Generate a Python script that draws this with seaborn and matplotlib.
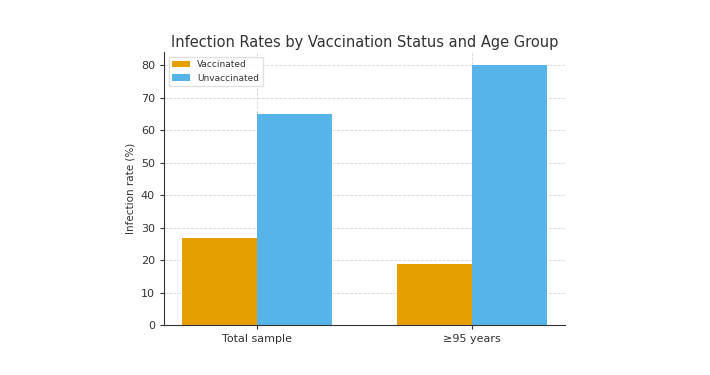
import seaborn as sns
import matplotlib.pyplot as plt
import pandas as pd

groups = ["Total sample", "≥95 years"]
vaccinated = [26.7, 18.9]
unvaccinated = [65.0, 80.0]
status = ["Vaccinated", "Unvaccinated"]
colors = ["#E69F00", "#56B4E9"]

df = pd.DataFrame({
    "group": groups * 2,
    "rate": vaccinated + unvaccinated,
    "status": [status[0]] * len(groups) + [status[1]] * len(groups),
})

sns.set_style("ticks")
plt.rcParams["font.family"] = ["DejaVu Sans"]
plt.rcParams["text.color"] = "#333333"
plt.rcParams["axes.labelcolor"] = "#333333"
plt.rcParams["xtick.color"] = "#333333"
plt.rcParams["ytick.color"] = "#333333"
plt.rcParams["axes.edgecolor"] = "#333333"

fig = plt.figure(figsize=(7.1, 3.75), dpi=100)
ax = fig.add_axes([0.231, 0.133, 0.565, 0.728])
sns.barplot(data=df, x="group", y="rate", hue="status", palette=colors,
            width=0.7, saturation=1, linewidth=0, ax=ax, zorder=2)

ax.set_xlim(-0.435, 1.435)
ax.set_title("Infection Rates by Vaccination Status and Age Group", fontsize=10.5, pad=4)
ax.set_xlabel("")
ax.set_ylabel("Infection rate (%)", fontsize=7.5)
ax.tick_params(axis="both", labelsize=8, length=3)
ax.grid(True, linestyle="--", color="#cccccc", linewidth=0.6, alpha=0.8, zorder=0)
ax.set_axisbelow(True)
sns.despine(ax=ax)
ax.legend(loc="upper left", fontsize=6.5, frameon=True, framealpha=0.9, edgecolor="#dddddd")

plt.savefig("out.png", dpi=100)
